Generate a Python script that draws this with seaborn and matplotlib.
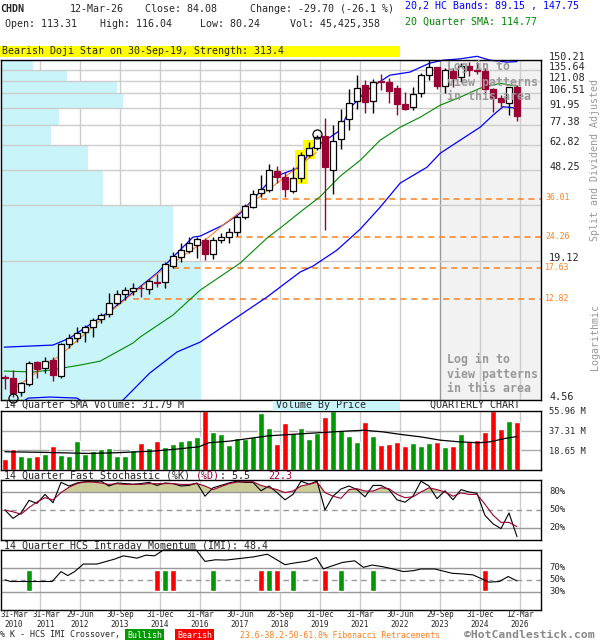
import matplotlib
matplotlib.use("Agg")
import matplotlib.pyplot as plt
import matplotlib.transforms as mtransforms
from matplotlib.patches import Rectangle
import numpy as np
import pandas as pd
import seaborn as sns

# ---------------- data ----------------
quarter_idx = list(range(65))   # 0 = 31-Mar-2010 ... 64 = 12-Mar-2026
opens = [5.77, 5.71, 4.96, 5.38, 6.73, 6.33, 6.87, 5.83, 8.10, 8.62,
         9.17, 9.65, 10.48, 11.03, 12.35, 13.55, 13.97, 14.49, 14.26, 15.33,
         15.33, 18.06, 19.81, 21.07, 22.41, 23.59, 20.43, 23.59, 24.33, 25.61,
         29.87, 33.11, 38.23, 39.43, 47.93, 45.07, 39.03, 44.59, 56.48, 60.69,
         68.6, 48.42, 66.6, 81.7, 98.4, 115.9, 98.4, 120.8, 119.5, 112.4,
         95.4, 92.5, 106.8, 128.5, 139.4, 114.7, 133.9, 125.7, 140.9, 135.2,
         133.9, 111.2, 101.4, 96.4, 113.31]
highs = [5.89, 6.20, 5.49, 6.80, 6.80, 7.09, 7.09, 8.19, 8.98, 9.65,
         9.85, 10.58, 11.15, 13.69, 14.11, 14.56, 15.17, 14.86, 15.80, 16.64,
         18.82, 20.85, 22.88, 24.33, 24.33, 24.09, 24.33, 25.35, 26.69, 30.50,
         34.15, 39.43, 45.99, 51.50, 50.45, 47.44, 49.94, 58.24, 64.60, 69.36,
         82.6, 76.86, 90.6, 111.2, 128.5, 122.0, 123.3, 129.8, 124.5, 115.9,
         107.8, 113.5, 131.1, 149.9, 140.5, 137.9, 137.9, 145.4, 146.9, 146.9,
         137.9, 112.4, 104.6, 113.78, 116.04]
lows = [5.10, 4.70, 4.75, 5.27, 5.71, 6.02, 5.54, 5.71, 7.78, 8.27,
        8.27, 8.71, 10.06, 10.70, 12.10, 12.73, 13.41, 13.14, 13.55, 14.56,
        14.41, 17.70, 18.82, 20.64, 19.61, 19.21, 19.41, 22.88, 22.88, 24.58,
        29.27, 32.77, 36.69, 38.64, 42.36, 36.69, 38.23, 42.79, 55.37, 59.46,
        26.14, 37.84, 60.1, 73.0, 90.6, 87.3, 87.3, 110.1, 96.4, 85.2,
        89.7, 89.7, 102.5, 122.0, 111.2, 106.8, 113.5, 119.5, 127.2, 130.4,
        106.8, 87.8, 92.5, 85.2, 80.24]
closes = [5.71, 4.91, 5.43, 6.67, 6.27, 6.80, 5.89, 8.10, 8.62, 9.07,
          9.65, 10.37, 10.92, 12.35, 13.55, 14.11, 14.41, 14.35, 15.48, 15.17,
          18.44, 20.01, 21.29, 22.88, 23.83, 20.43, 23.59, 24.33, 25.61, 29.87,
          33.46, 37.84, 39.84, 48.42, 45.07, 39.84, 44.59, 56.48, 60.69, 67.94,
          50.2, 65.2, 80.1, 96.4, 112.4, 97.4, 119.5, 119.5, 109.0, 95.4,
          90.6, 105.7, 128.5, 139.4, 114.7, 135.2, 124.5, 140.9, 135.2, 133.9,
          111.2, 101.4, 97.4, 113.78, 84.08]
volume_m = [10.4, 19.8, 13.2, 12.3, 13.2, 15.1, 22.6, 14.1, 13.2, 27.4,
            15.1, 17.6, 20.1, 21.1, 13.2, 13.2, 18.9, 25.5, 21.1, 27.4,
            21.7, 24.5, 27.4, 28.3, 31.1, 55.96, 35.8, 34.0, 23.6, 30.2,
            29.2, 31.1, 53.8, 39.6, 24.5, 44.3, 34.9, 39.6, 29.6, 34.9,
            50.0, 55.9, 37.7, 32.1, 26.4, 45.3, 32.1, 23.6, 24.5, 26.4,
            22.6, 25.5, 22.6, 25.5, 26.4, 21.7, 22.6, 34.0, 27.4, 28.3,
            35.8, 55.96, 38.7, 46.2, 45.43]

# overlay lines (vertices; x = quarter index)
upper_q = [-0.1, 6, 8.1, 13.1, 19, 23.5, 24.4, 27.25, 29.4, 31.5, 33.5, 35.25, 36.9,
           38.4, 39.75, 41.9, 43.1, 45.25, 48.1, 50.6, 53.1, 54.75, 56.9, 59, 60.6, 62.75, 64]
upper_p = [7.85, 8.02, 8.62, 11.37, 16.81, 24.33, 24.58, 27.52, 31.12, 37.45, 45.07, 47.44, 49.94,
           60.69, 64.6, 73.0, 91.5, 110.1, 128.5, 132.6, 145.5, 149.9, 152.0, 156.0, 150.0, 147.0, 147.75]
lower1_q = [2.3, 2.9, 5.6, 9.0, 9.6]
lower1_p = [4.50, 4.65, 4.70, 4.65, 4.50]
lower2_q = [14.6, 18.1, 21.5, 24.4, 29.4, 32.75, 36.9, 38.5, 41.5, 44.4, 46.9, 49.4,
            52.75, 54.4, 56.9, 59.4, 61, 62.25, 63.5, 64]
lower2_p = [4.50, 6.02, 7.47, 8.27, 10.92, 13.14, 17.0, 18.06, 21.29, 26.4, 33.1, 42.4,
            49.9, 57.6, 65.9, 75.3, 85.2, 92.9, 92.0, 89.15]
sma_q = [-0.1, 3.5, 5.6, 9.4, 11.9, 16, 16.9, 21, 24.4, 29.4, 32.75, 34.4, 36.9, 39.4,
         41.9, 44.4, 46.9, 49.4, 51.9, 54.4, 56.9, 59.4, 61.9, 64]
sma_p = [6.14, 6.08, 6.20, 6.53, 6.80, 8.19, 8.71, 10.92, 14.11, 18.63, 24.09, 26.7, 31.48, 36.9,
         45.5, 53.6, 65.9, 75.3, 83.4, 94.4, 102.5, 112.4, 118.2, 114.77]
trend_q = [0.9, 7.1, 13.1, 19.0, 24.4, 27.25, 38.9]
trend_p = [5.05, 7.32, 11.26, 16.64, 22.6, 27.5, 58.0]

price_ticks = [4.56, 19.12, 33.69, 48.25, 62.82, 77.38, 91.95, 106.51, 121.08, 135.64, 150.21]
price_labels = ["4.56", "19.12", "", "48.25", "62.82", "77.38", "91.95", "106.51", "121.08", "135.64", "150.21"]
vbp_rel = [200, 172, 102, 87, 50, 58, 122, 116, 66, 32]   # bottom band -> top band
fib_levels = [36.01, 24.26, 17.63, 12.82]
fib_start = [32.0, 27.5, 21.0, 16.0]
highlight_idx = [37, 38]
marker_idx = [39, 1]
marker_price = [70.0, 4.65]

vsma_q = [0, 5, 10.4, 13.7, 18.5, 21.4, 24.25, 25.45, 28.1, 32.9, 37.6, 42.4, 44.8, 47.2,
          49.6, 52, 54.4, 56.8, 59.2, 60.6, 62.5, 64]
vsma_v = [17.3, 16.7, 15.7, 16.3, 17.9, 19.8, 22.0, 25.8, 27.4, 32.4, 34.6, 36.8, 37.7, 36.2,
          33.6, 31.4, 28.3, 26.7, 25.8, 26.7, 29.9, 31.79]

stoch_k = [50, 36, 45, 66, 61, 76, 62, 96, 90, 95, 97, 98, 98, 90, 95, 94, 93, 94, 96, 91,
           95, 94, 90, 91, 95, 73, 87, 91, 95, 98, 96, 96, 82, 90, 79, 67, 76, 98, 93, 98,
           50, 73, 85, 90, 84, 72, 91, 91, 84, 67, 63, 73, 98, 90, 69, 82, 67, 84, 80, 78,
           41, 27, 19, 45, 5.5]
stoch_d = [50, 47, 43, 54, 63.5, 70.6, 66.8, 79, 88, 94, 97, 96.5, 95, 92.7, 93.8, 92.7, 92.7, 92.7, 94, 93.8,
           94, 94, 92.7, 92.7, 94, 90, 84, 89, 94, 96.5, 97, 97, 91, 87, 84, 79, 81.6, 90, 92.7, 96.5,
           79, 73, 69.5, 84, 85.5, 81.6, 81.6, 87, 85.5, 76, 70.6, 72, 80, 87, 84, 80, 73, 78.6, 76, 76,
           59.6, 41.5, 29.4, 29.4, 22.3]

imi_q = [0, 0.7, 5.9, 7.0, 7.85, 8.7, 9.8, 11.5, 13.7, 14.8, 16.5, 17.6, 18.7, 19.8, 23.9,
         25.0, 26.3, 27.6, 29.4, 31.1, 32.8, 35.0, 36.1, 37.8, 38.9, 39.8, 40.7, 42.2, 43.7,
         44.8, 45.9, 47.2, 48.5, 49.8, 51.1, 52.0, 53.7, 55.9, 57.2, 58.5, 59.6, 60.5, 61.8, 62.9, 64.0]
imi_v = [50.3, 47.5, 47.5, 64, 57.4, 64, 76.6, 76.6, 84.8, 90.3, 86.4, 91.4, 90.3, 100, 100,
         81, 83.7, 83.2, 85.9, 88.6, 93, 75.5, 78.2, 81.5, 87.5, 68.4, 72.7, 79.3, 82,
         71.1, 74.9, 72.2, 68.4, 64, 65.6, 68.4, 68.4, 61.2, 60.1, 58.5, 51.9, 46.4, 47.5, 55.8, 48.4]
signal_idx = [3, 19, 20, 21, 26, 32, 33, 34, 36, 40, 42, 46, 60]
signal_type = ["Bullish", "Bearish", "Bullish", "Bearish", "Bullish", "Bearish", "Bullish",
               "Bearish", "Bullish", "Bearish", "Bullish", "Bullish", "Bearish"]

date_idx = [0, 4, 9, 14, 19, 24, 29, 34, 39, 44, 49, 54, 59, 64]
date_text = ["31-Mar\n2010", "31-Mar\n2011", "29-Jun\n2012", "30-Sep\n2013", "31-Dec\n2014",
             "31-Mar\n2016", "30-Jun\n2017", "28-Sep\n2018", "31-Dec\n2019", "31-Mar\n2021",
             "30-Jun\n2022", "29-Sep\n2023", "31-Dec\n2024", "12-Mar\n2026"]

# ---------------- styling ----------------
sns.set_style("white")
plt.rcParams['font.family'] = ['DejaVu Sans Mono', 'DejaVu Sans']

MAROON = "#990033"
VGREEN = "#009900"
VRED = "#ff0000"
GRID = "#cccccc"
CYAN = "#c8f4fa"
ORANGE = "#ff8020"
GRAY_TXT = "#999999"

W, H = 600, 640
fig = plt.figure(figsize=(6, 6.4), dpi=100)
fig.patch.set_facecolor("white")


def add_ax(x0, y0, x1, y1):
    a = fig.add_axes([x0 / W, 1 - y1 / H, (x1 - x0) / W, (y1 - y0) / H])
    a.set_xlim(-0.5, 67)
    for s in a.spines.values():
        s.set_color("black")
        s.set_linewidth(1.0)
        s.set_zorder(10)
    return a


def finish(a):
    a.tick_params(which='both', left=False, bottom=False, right=False, top=False,
                  labelleft=False, labelbottom=False)
    a.set_xlabel("")
    a.set_ylabel("")


def ftext(x, y, s, **kw):
    kw.setdefault("va", "center")
    kw.setdefault("fontsize", 7.2)
    return fig.text(x / W, 1 - y / H, s, **kw)


grid_x = [4.375 + 5 * k for k in range(13)]
df = pd.DataFrame({"q": quarter_idx, "o": opens, "h": highs, "l": lows, "c": closes,
                   "v": volume_m, "k": stoch_k, "d": stoch_d})
df["up"] = df["c"] >= df["o"]

# ---------------- main price panel ----------------
ax = add_ax(1, 60, 541, 400)
ax.set_yscale("log")
ax.set_ylim(4.56, 150.21)
ax.axvspan(54.375, 67, color="#f2f2f2", zorder=0, lw=0)
for gx in grid_x:
    ax.axvline(gx, color="#999999" if abs(gx - 54.375) < 0.01 else GRID, lw=1, zorder=0.5)
blend = mtransforms.blended_transform_factory(ax.transAxes, ax.transData)
vmax = max(vbp_rel)
for k, w in enumerate(vbp_rel):
    ax.add_patch(Rectangle((0, price_ticks[k]), w / vmax * 200 / 540,
                           price_ticks[k + 1] - price_ticks[k], transform=blend,
                           facecolor=CYAN, edgecolor="none", zorder=1))
for t in price_ticks:
    ax.axhline(t, color=GRID, lw=1, zorder=1.5)
for lvl, st in zip(fib_levels, fib_start):
    ax.hlines(lvl, st, 67, colors=ORANGE, linestyles=(0, (4, 3)), lw=1.1, zorder=2)

for i in highlight_idx:
    lo, hi = lows[i] * 0.985, highs[i] * 1.02
    ax.add_patch(Rectangle((i - 0.7, lo), 1.4, hi - lo, facecolor="#ffff00",
                           edgecolor="none", zorder=2.5))

sns.lineplot(x=sma_q, y=sma_p, ax=ax, color="#008800", linewidth=0.8, estimator=None, sort=False, zorder=3)
sns.lineplot(x=upper_q, y=upper_p, ax=ax, color="#0000ff", linewidth=0.9, estimator=None, sort=False,
             zorder=3, clip_on=False)
sns.lineplot(x=lower1_q, y=lower1_p, ax=ax, color="#0000ff", linewidth=0.9, estimator=None, sort=False, zorder=3)
sns.lineplot(x=lower2_q, y=lower2_p, ax=ax, color="#0000ff", linewidth=0.9, estimator=None, sort=False, zorder=3)
sns.lineplot(x=trend_q, y=trend_p, ax=ax, color=ORANGE, linewidth=0.8, estimator=None, sort=False, zorder=3.5)

for _, r in df.iterrows():
    col = "black" if r.up else MAROON
    ax.vlines(r.q, r.l, r.h, color=col, lw=1.0, zorder=4)
    b0, b1 = min(r.o, r.c), max(r.o, r.c)
    ax.bar(r.q, max(b1 - b0, b0 * 0.004), bottom=b0, width=0.72,
           facecolor="white" if r.up else MAROON, edgecolor=col, lw=0.9, zorder=5)

for mi, mp in zip(marker_idx, marker_price):
    ax.plot([mi], [mp], marker="o", ms=6.5, mfc="none", mec="black", mew=0.9,
            zorder=6, clip_on=False, ls="none")

for t, lab in zip(price_ticks, price_labels):
    if lab:
        ax.annotate(lab, xy=(1, t), xycoords=("axes fraction", "data"), xytext=(8, 3),
                    textcoords="offset pixels", va="center", ha="left", fontsize=7.3,
                    annotation_clip=False)
for lvl in fib_levels:
    ax.annotate(f"{lvl:.2f}", xy=(1, lvl), xycoords=("axes fraction", "data"), xytext=(4, 1),
                textcoords="offset pixels", va="center", ha="left", fontsize=5.9,
                color=ORANGE, annotation_clip=False)
finish(ax)

for yy, s in zip([66, 82, 97], ["Log in to", "view patterns", "in this area"]):
    ftext(447, yy, s, fontsize=8.4, fontweight="bold", color=GRAY_TXT, zorder=20)
for yy, s in zip([359, 374, 389], ["Log in to", "view patterns", "in this area"]):
    ftext(447, yy, s, fontsize=8.4, fontweight="bold", color=GRAY_TXT, zorder=20)

ftext(595, 160, "Split and Dividend Adjusted", rotation=90, ha="center", color=GRAY_TXT, fontsize=7.2)
ftext(595, 337, "Logarithmic", rotation=90, ha="center", color=GRAY_TXT, fontsize=7.2)

# ---------------- header ----------------
ftext(0, 9, "CHDN", fontweight="bold")
ftext(70, 9, "12-Mar-26")
ftext(145, 9, "Close: 84.08")
ftext(250, 9, "Change: -29.70 (-26.1 %)")
ftext(5, 24, "Open: 113.31")
ftext(100, 24, "High: 116.04")
ftext(200, 24, "Low: 80.24")
ftext(290, 24, "Vol: 45,425,358")
ftext(405, 6, "20,2 HC Bands: 89.15 , 147.75", color="#0000ff")
ftext(405, 22, "20 Quarter SMA: 114.77", color="#008800")
fig.add_artist(Rectangle((0, 1 - 57 / H), 400 / W, 11 / H, transform=fig.transFigure,
                         facecolor="#ffff00", edgecolor="none"))
ftext(2, 51.5, "Bearish Doji Star on 30-Sep-19, Strength: 313.4")

# ---------------- volume panel ----------------
axv = add_ax(1, 411, 541, 470)
axv.set_ylim(0, 55.96)
for gx in grid_x:
    axv.axvline(gx, color=GRID, lw=1, zorder=0.5)
for t in [18.65, 37.31]:
    axv.axhline(t, color="#aaaaaa", lw=1, zorder=0.6)
axv.bar(df["q"], df["v"], width=0.78, color=[VGREEN if u else VRED for u in df["up"]], zorder=2)
sns.lineplot(x=vsma_q, y=vsma_v, ax=axv, color="black", linewidth=0.9, estimator=None, sort=False, zorder=3)
finish(axv)
for t, lab in zip([55.96, 37.31, 18.65], ["55.96 M", "37.31 M", "18.65 M"]):
    axv.annotate(lab, xy=(1, t), xycoords=("axes fraction", "data"), xytext=(8, -1),
                 textcoords="offset pixels", va="center", ha="left", fontsize=6.2,
                 annotation_clip=False)
ftext(4, 405, "14 Quarter SMA Volume: 31.79 M")
fig.add_artist(Rectangle((273 / W, 1 - 411 / H), 127 / W, 10 / H, transform=fig.transFigure,
                         facecolor=CYAN, edgecolor="none"))
ftext(276, 405.5, "Volume By Price")
ftext(430, 405, "QUARTERLY CHART")

# ---------------- stochastic panel ----------------
axs = add_ax(1, 480, 541, 540)
axs.set_ylim(0, 100)
for gx in grid_x:
    axs.axvline(gx, color=GRID, lw=1, zorder=0.5)
kd = np.array(stoch_d, dtype=float)
axs.fill_between(df["q"], 80, kd, where=kd > 80, interpolate=True, color="#cccc99", lw=0, zorder=1)
axs.axhline(80, color="#999999", lw=1, zorder=1.2)
axs.axhline(20, color="#999999", lw=1, zorder=1.2)
axs.axhline(50, color="#999999", lw=1, ls=(0, (4, 3)), zorder=1.2)
sns.lineplot(x=df["q"], y=df["k"], ax=axs, color="black", linewidth=0.8, estimator=None, sort=False, zorder=3)
sns.lineplot(x=df["q"], y=df["d"], ax=axs, color=MAROON, linewidth=0.8, estimator=None, sort=False, zorder=3)
finish(axs)
for t in [80, 50, 20]:
    axs.annotate(f"{t}%", xy=(1, t), xycoords=("axes fraction", "data"), xytext=(8, 0),
                 textcoords="offset pixels", va="center", ha="left", fontsize=6.4,
                 annotation_clip=False)
ftext(4, 476, "14 Quarter Fast Stochastic (%K)")
ftext(196, 476, "(%D)", color=MAROON)
ftext(220, 476, ": 5.5")
ftext(268, 476, "22.3", color=MAROON)

# ---------------- IMI panel ----------------
axi = add_ax(1, 550, 541, 610)
axi.set_ylim(0, 100)
for gx in grid_x:
    axi.axvline(gx, color=GRID, lw=1, zorder=0.5)
axi.axhline(70, color="#999999", lw=1, zorder=1.2)
axi.axhline(30, color="#999999", lw=1, zorder=1.2)
axi.axhline(50, color="#999999", lw=1, ls=(0, (4, 3)), zorder=1.2)
axi.bar(signal_idx, 35, bottom=32.5, width=0.78,
        color=[VGREEN if s == "Bullish" else VRED for s in signal_type], zorder=2)
sns.lineplot(x=imi_q, y=imi_v, ax=axi, color="black", linewidth=0.8, estimator=None, sort=False,
             zorder=3, clip_on=False)
finish(axi)
for t in [70, 50, 30]:
    axi.annotate(f"{t}%", xy=(1, t), xycoords=("axes fraction", "data"), xytext=(8, 0),
                 textcoords="offset pixels", va="center", ha="left", fontsize=6.4,
                 annotation_clip=False)
ftext(4, 546, "14 Quarter HCS Intraday Momentum (IMI): 48.4")

# x date labels
for n, (qi, s) in enumerate(zip(date_idx, date_text)):
    if n == 0:
        px = 14
    elif n == 1:
        px = 46
    else:
        px = 8 * qi + 8
    ftext(px, 619.5, s, ha="center", fontsize=5.5, linespacing=1.15)

# ---------------- footer ----------------
ftext(0, 635, "% K - HCS IMI Crossover,", fontsize=6.0)
fig.add_artist(Rectangle((125 / W, 1 - 641 / H), 39 / W, 12 / H, transform=fig.transFigure,
                         facecolor=VGREEN, edgecolor="none"))
ftext(144.5, 635, "Bullish", ha="center", color="white", fontsize=6.0)
fig.add_artist(Rectangle((175 / W, 1 - 641 / H), 39 / W, 12 / H, transform=fig.transFigure,
                         facecolor=VRED, edgecolor="none"))
ftext(194.5, 635, "Bearish", ha="center", color="white", fontsize=6.0)
ftext(240, 635, "23.6-38.2-50-61.8% Fibonacci Retracements", color=ORANGE, fontsize=5.9)
ftext(464, 635.5, "\u00a9HotCandlestick.com", color="#888888", fontsize=8.2, fontweight="bold")

fig.savefig("out.png", dpi=100, facecolor="white")
